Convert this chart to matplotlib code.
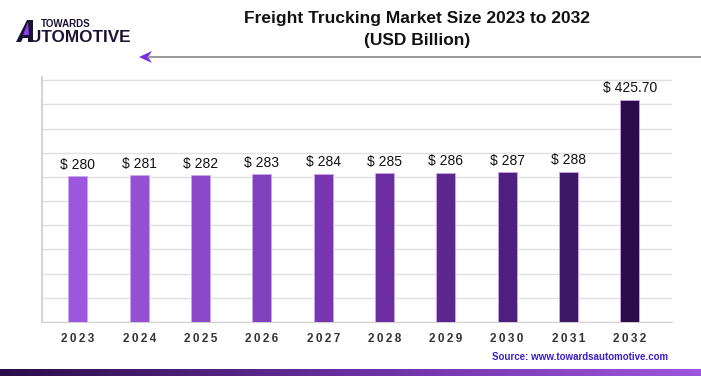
import matplotlib
matplotlib.use("Agg")
import matplotlib.pyplot as plt
import numpy as np
from matplotlib.patches import Polygon
from matplotlib.colors import LinearSegmentedColormap

plt.rcParams['font.family'] = ['Liberation Sans', 'DejaVu Sans']

years = ["2023", "2024", "2025", "2026", "2027", "2028", "2029", "2030", "2031", "2032"]
values = [280, 281, 282, 283, 284, 285, 286, 287, 288, 425.70]
value_labels = ["$ 280", "$ 281", "$ 282", "$ 283", "$ 284", "$ 285", "$ 286", "$ 287", "$ 288", "$ 425.70"]
bar_colors = ["#9d56de", "#944fd2", "#8b48c8", "#8140bd", "#7736b0",
              "#6a2ea0", "#5c278f", "#4e1f7e", "#3e1866", "#2c0d4c"]

W, H = 701, 376
fig = plt.figure(figsize=(W / 100, H / 100), dpi=100)
fig.patch.set_facecolor("white")

# main axes
left, right, top, bottom = 42, 672, 77, 322
ax = fig.add_axes([left / W, (H - bottom) / H, (right - left) / W, (bottom - top) / H])
x = np.arange(len(years))
ax.bar(x, values, width=0.31, color=bar_colors, edgecolor="#c9a8ee", linewidth=0.6, zorder=3)
ax.set_xlim(-0.587, 9.69)
ax.set_ylim(0, 469)
ax.set_yticks(np.linspace(0, 463, 11))
ax.yaxis.grid(True, color="#e0e0e0", linewidth=1, zorder=0)
ax.set_axisbelow(True)
ax.tick_params(axis="y", length=0, labelleft=False)
ax.tick_params(axis="x", length=0, pad=8)
ax.set_xticks(x)
ax.set_xticklabels(["\u2009".join(y) for y in years], fontsize=8.5, fontweight="bold", color="#333333")
for s in ["top", "right"]:
    ax.spines[s].set_visible(False)
ax.spines["left"].set_color("#cccccc")
ax.spines["bottom"].set_color("#d0d0d0")
ax.spines["left"].set_linewidth(1.2)

for xi, v, lab in zip(x, values, value_labels):
    ax.annotate(lab, (xi, v), xytext=(0, 3), textcoords="offset points",
                ha="center", va="bottom", fontsize=10, color="#111111")

# title
fig.text(417 / W, 1 - 18 / H, "Freight Trucking Market Size 2023 to 2032", ha="center", va="center",
         fontsize=12.5, fontweight="bold", color="#111111")
fig.text(417 / W, 1 - 40 / H, "(USD Billion)", ha="center", va="center",
         fontsize=12.5, fontweight="bold", color="#111111")

# arrow line
fig.add_artist(plt.Line2D([148 / W, 1.0], [1 - 57 / H, 1 - 57 / H], color="#8a8a8a", linewidth=1.2))
arrow = Polygon([[139 / W, 1 - 57 / H], [152 / W, 1 - 51 / H], [148 / W, 1 - 57 / H], [152 / W, 1 - 63 / H]],
                closed=True, facecolor="#7b2fe0", edgecolor="none", transform=fig.transFigure)
fig.add_artist(arrow)

# logo
fig.text(41 / W, 1 - 24 / H, "TOWARDS", ha="left", va="center", fontsize=7, fontweight="heavy", color="#1c1233")
fig.text(29 / W, 1 - 37 / H, "UTOMOTIVE", ha="left", va="center", fontsize=12.3, fontweight="heavy", color="#1c1233")
logoA = Polygon([[16 / W, 1 - 42 / H], [27 / W, 1 - 20 / H], [33 / W, 1 - 20 / H], [33 / W, 1 - 42 / H],
                 [28 / W, 1 - 42 / H], [28 / W, 1 - 38 / H], [23 / W, 1 - 38 / H], [21 / W, 1 - 42 / H]],
                closed=True, facecolor="#1c1233", edgecolor="none", transform=fig.transFigure)
fig.add_artist(logoA)
logoA2 = Polygon([[23 / W, 1 - 35 / H], [28 / W, 1 - 22 / H], [29 / W, 1 - 35 / H]],
                 closed=True, facecolor="#8b3ff0", edgecolor="none", transform=fig.transFigure)
fig.add_artist(logoA2)

# source
fig.text(668 / W, 1 - 357 / H, "Source: www.towardsautomotive.com", ha="right", va="center",
         fontsize=7, color="#3d1fc4", fontweight="bold")

# bottom gradient band
band = fig.add_axes([0, 0, 1, 7 / H])
cmap = LinearSegmentedColormap.from_list("band", ["#2a0d48", "#6a2ea0", "#9d56de"])
band.imshow(np.linspace(0, 1, 256)[None, :], aspect="auto", cmap=cmap, extent=[0, 1, 0, 1])
band.axis("off")

fig.savefig("out.png", dpi=100, facecolor="white")
